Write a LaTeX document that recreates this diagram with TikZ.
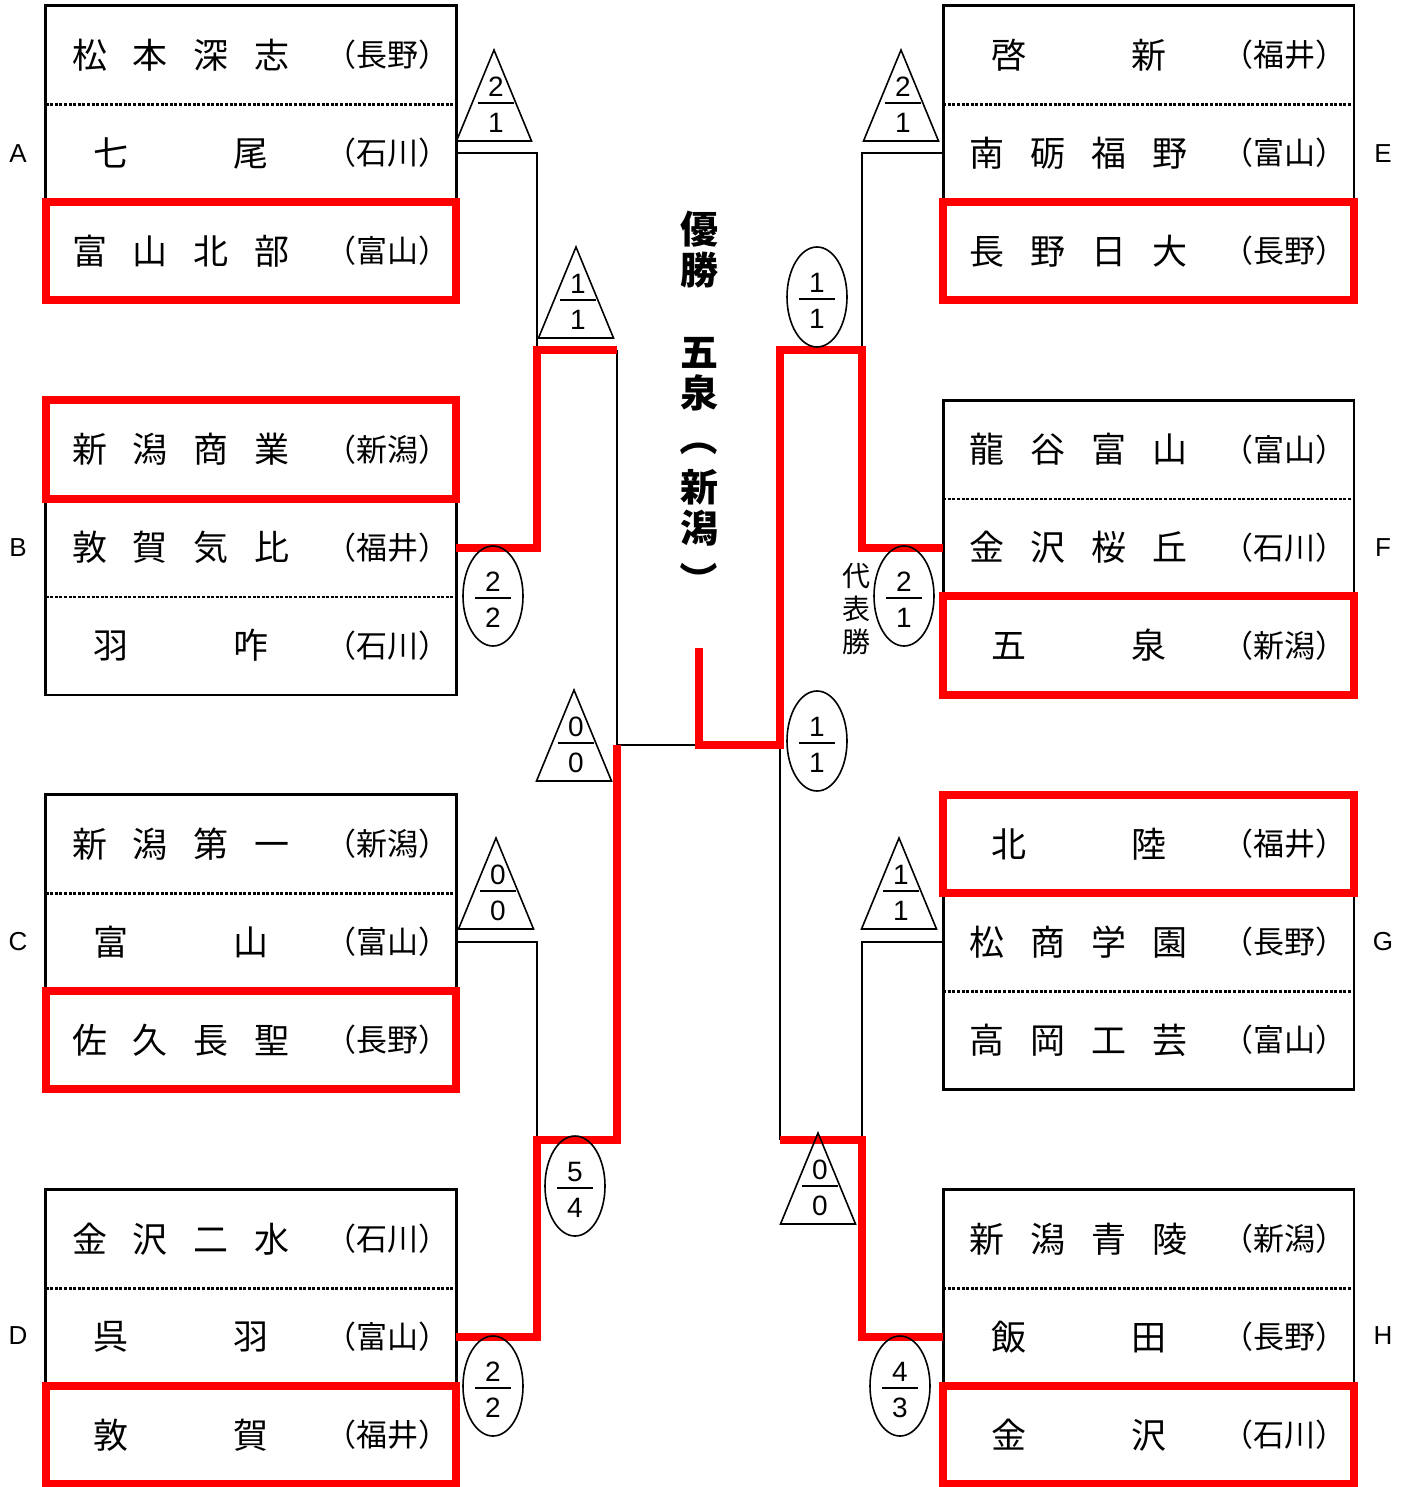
\documentclass[tikz,border=0pt]{standalone}
\usepackage{fontspec}
\usetikzlibrary{shapes.geometric}
\newfontfamily\jp{Noto Sans CJK JP}
\newfontfamily\arial{Liberation Sans}

\tikzset{
  row/.style={minimum width=205pt, minimum height=49pt, inner sep=0pt},
  team/.style={font=\jp\fontsize{17.5}{20}\selectfont, inner sep=0pt},
  pref/.style={font=\jp\fontsize{15.5}{18}\selectfont, inner sep=0pt},
  title/.style={font=\jp\bfseries\fontsize{19}{20.5}\selectfont, align=center, inner sep=0pt},
  frame/.style={line width=1.4pt},
  sep/.style={line width=1.2pt, dash pattern=on 1.5pt off 0.8pt},
  winframe/.style={draw=red, line width=4pt},
  line/.style={line width=1.4pt},
  win/.style={draw=red, line width=4pt, line join=miter},
  oval/.style={draw, ellipse, line width=0.8pt, minimum width=30pt, minimum height=50pt, inner sep=0pt},
  tri/.style={line width=0.8pt, line join=miter},
  num/.style={font=\arial\fontsize{14}{16}\selectfont, inner sep=0pt},
  blk/.style={font=\arial\fontsize{13}{15}\selectfont, inner sep=0pt},
}

\newcommand\four[4]{\makebox[109pt]{#1\hfill#2\hfill#3\hfill#4}}
\newcommand\two[2]{\makebox[87.5pt]{#1\hfill#2}}
% one line of a group box: name, x, y, school, prefecture
\newcommand\school[5]{%
  \node[row] (#1) at (#2,#3) {};
  \node[team] (#1t) at ([xshift=-35pt]#1.center) {#4};
  \node[pref] (#1p) at ([xshift=68pt]#1.center) {（#5）};
}
% score as a fraction
\newcommand\score[5]{%
  \node[num] (#1t) at (#2,#3-16) {#4};
  \node[num] (#1b) at (#2,#3+20) {#5};
  \draw[line width=0.7pt] (#2-18,#3) -- (#2+18,#3);
}
\newcommand\tri[5]{%
  \draw[tri] (#2-37.5,#3+91) -- (#2,#3) -- (#2+37.5,#3+91) -- cycle;
  \score{#1}{#2+2}{#3+53}{#4}{#5}
}
\newcommand\ovl[5]{%
  \node[oval] (#1) at (#2,#3) {};
  \score{#1}{#2}{#3+2}{#4}{#5}
}

\begin{document}
\begin{tikzpicture}[x=0.5pt, y=-0.5pt]
  \useasboundingbox (0,0) rectangle (1411,1487);

  % groups, left
  \school{A1}{251}{55}{\four 松本深志}{長野}
  \school{A2}{251}{153}{\two 七尾}{石川}
  \school{A3}{251}{251}{\four 富山北部}{富山}
  \school{B1}{251}{449.5}{\four 新潟商業}{新潟}
  \school{B2}{251}{547.5}{\four 敦賀気比}{福井}
  \school{B3}{251}{645.5}{\two 羽咋}{石川}
  \school{C1}{251}{844}{\four 新潟第一}{新潟}
  \school{C2}{251}{942}{\two 富山}{富山}
  \school{C3}{251}{1040}{\four 佐久長聖}{長野}
  \school{D1}{251}{1239}{\four 金沢二水}{石川}
  \school{D2}{251}{1337}{\two 呉羽}{富山}
  \school{D3}{251}{1435}{\two 敦賀}{福井}

  % groups, right
  \school{E1}{1148.5}{55}{\two 啓新}{福井}
  \school{E2}{1148.5}{153}{\four 南砺福野}{富山}
  \school{E3}{1148.5}{251}{\four 長野日大}{長野}
  \school{F1}{1148.5}{449.5}{\four 龍谷富山}{富山}
  \school{F2}{1148.5}{547.5}{\four 金沢桜丘}{石川}
  \school{F3}{1148.5}{645.5}{\two 五泉}{新潟}
  \school{G1}{1148.5}{844}{\two 北陸}{福井}
  \school{G2}{1148.5}{942}{\four 松商学園}{長野}
  \school{G3}{1148.5}{1040}{\four 高岡工芸}{富山}
  \school{H1}{1148.5}{1239}{\four 新潟青陵}{新潟}
  \school{H2}{1148.5}{1337}{\two 飯田}{長野}
  \school{H3}{1148.5}{1435}{\two 金沢}{石川}

  \node[blk] (lA) at (18,154) {A};
  \node[blk] (lB) at (18,548) {B};
  \node[blk] (lC) at (18,942) {C};
  \node[blk] (lD) at (18,1336) {D};
  \node[blk] (lE) at (1383,154) {E};
  \node[blk] (lF) at (1383,548) {F};
  \node[blk] (lG) at (1383,942) {G};
  \node[blk] (lH) at (1383,1336) {H};

  % box outlines
  \draw[frame] (A1.north west) rectangle (A3.south east);
  \draw[frame] (B1.north west) rectangle (B3.south east);
  \draw[frame] (C1.north west) rectangle (C3.south east);
  \draw[frame] (D1.north west) rectangle (D3.south east);
  \draw[frame] (E1.north west) rectangle (E3.south east);
  \draw[frame] (F1.north west) rectangle (F3.south east);
  \draw[frame] (G1.north west) rectangle (G3.south east);
  \draw[frame] (H1.north west) rectangle (H3.south east);
  \draw[sep] (A1.south west) -- (A1.south east);
  \draw[sep] (B2.south west) -- (B2.south east);
  \draw[sep] (C1.south west) -- (C1.south east);
  \draw[sep] (D1.south west) -- (D1.south east);
  \draw[sep] (E1.south west) -- (E1.south east);
  \draw[sep] (F1.south west) -- (F1.south east);
  \draw[sep] (G2.south west) -- (G2.south east);
  \draw[sep] (H1.south west) -- (H1.south east);

  % bracket
  \coordinate (jAB) at (537,350);
  \coordinate (sAB) at (617,350);
  \coordinate (jCD) at (537,1140);
  \coordinate (sCD) at (617,1140);
  \coordinate (jEF) at (862,350);
  \coordinate (sEF) at (780,350);
  \coordinate (jGH) at (862,1140);
  \coordinate (sGH) at (780,1140);
  \coordinate (fL) at (617,745);
  \coordinate (fC) at (699,745);
  \coordinate (fR) at (780,745);
  \coordinate (crown) at (699,648);

  \draw[line] (A2.east) -| (jAB);
  \draw[line] (sAB) -- (fL);
  \draw[line] (C2.east) -| (jCD);
  \draw[line] (fL) -- (fC);
  \draw[line] (E2.west) -| (jEF);
  \draw[line] (G2.west) -| (jGH);
  \draw[line] (sGH) -- (fR);

  \draw[win] (B2.east) -| (jAB) -- (sAB);
  \draw[win] (D2.east) -| (jCD) -- (sCD) -- (fL);
  \draw[win] (F2.west) -| (jEF) -- (sEF) -- (fR) -- (fC) -- (crown);
  \draw[win] (H2.west) -| (jGH) -- (sGH);

  % qualifiers
  \draw[winframe] (A3.north west) rectangle (A3.south east);
  \draw[winframe] (B1.north west) rectangle (B1.south east);
  \draw[winframe] (C3.north west) rectangle (C3.south east);
  \draw[winframe] (D3.north west) rectangle (D3.south east);
  \draw[winframe] (E3.north west) rectangle (E3.south east);
  \draw[winframe] (F3.north west) rectangle (F3.south east);
  \draw[winframe] (G1.north west) rectangle (G1.south east);
  \draw[winframe] (H3.north west) rectangle (H3.south east);

  % scores
  \tri{sA}{494}{50}{2}{1}
  \tri{sAB}{576}{247}{1}{1}
  \ovl{sB}{493}{596}{2}{2}
  \tri{sL}{574}{690}{0}{0}
  \tri{sC}{496}{838}{0}{0}
  \ovl{sCD}{575}{1186}{5}{4}
  \ovl{sD}{493}{1386}{2}{2}
  \tri{sE}{901}{50}{2}{1}
  \ovl{sEF}{817}{297}{1}{1}
  \ovl{sF}{904}{596}{2}{1}
  \ovl{sR}{817}{741}{1}{1}
  \tri{sG}{899}{838}{1}{1}
  \tri{sGH}{818}{1133}{0}{0}
  \ovl{sH}{900}{1386}{4}{3}

  \node[font=\jp\fontsize{14}{16.5}\selectfont, align=center, inner sep=0pt] (rep) at (856,609) {代\\表\\勝};

  % champion
  \node[title] (champ1) at (699,250) {優\\勝};
  \node[title] (champ2) at (699,374) {五\\泉};
  \node[title, rotate=-90] (lp) at (699,437) {（};
  \node[title] (champ3) at (699,507.5) {新\\潟};
  \node[title, rotate=-90] (rp) at (699,580) {）};
\end{tikzpicture}
\end{document}
